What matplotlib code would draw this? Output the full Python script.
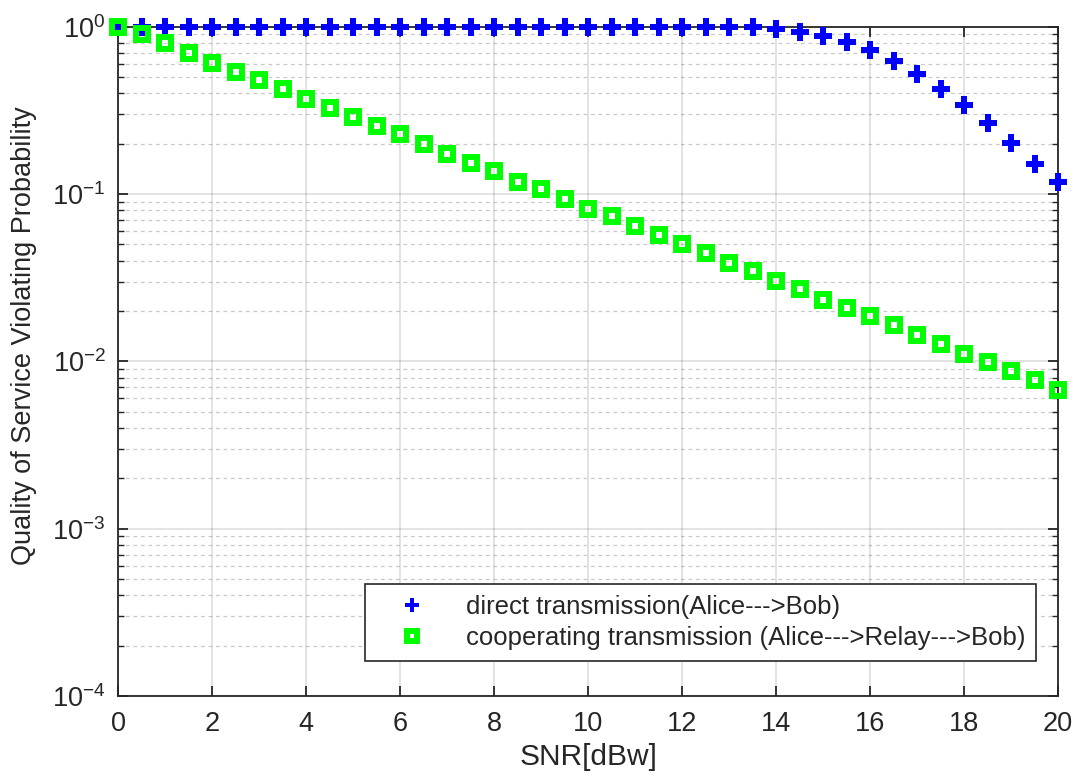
import numpy as np
import matplotlib
matplotlib.use("Agg")
import matplotlib.pyplot as plt
from matplotlib.ticker import LogLocator, FixedLocator, NullFormatter, FuncFormatter

snr = [0, 0.5, 1, 1.5, 2, 2.5, 3, 3.5, 4, 4.5, 5, 5.5, 6, 6.5, 7, 7.5, 8, 8.5, 9, 9.5,
       10, 10.5, 11, 11.5, 12, 12.5, 13, 13.5, 14, 14.5, 15, 15.5, 16, 16.5, 17, 17.5,
       18, 18.5, 19, 19.5, 20]

direct = [1.0, 1.0, 1.0, 1.0, 1.0, 1.0, 1.0, 1.0, 1.0, 1.0, 1.0, 1.0, 1.0, 1.0, 1.0, 1.0,
          1.0, 1.0, 1.0, 1.0, 1.0, 1.0, 1.0, 1.0, 1.0, 1.0, 0.998, 0.99, 0.965, 0.933,
          0.880, 0.807, 0.725, 0.623, 0.521, 0.424, 0.340, 0.264, 0.203, 0.152, 0.118]

coop = [1.0, 0.904, 0.796, 0.699, 0.609, 0.538, 0.480, 0.424, 0.372, 0.325, 0.287, 0.255,
        0.228, 0.198, 0.174, 0.153, 0.137, 0.118, 0.107, 0.0933, 0.0817, 0.0739, 0.0647,
        0.0570, 0.0501, 0.0443, 0.0389, 0.0346, 0.0304, 0.0269, 0.0234, 0.0209, 0.0186,
        0.0164, 0.0143, 0.0127, 0.0111, 0.0099, 0.0087, 0.0077, 0.00678]

x_ticks = [0, 2, 4, 6, 8, 10, 12, 14, 16, 18, 20]
labels = ["direct transmission(Alice--->Bob)",
          "cooperating transmission (Alice--->Relay--->Bob)"]

plt.rcParams['font.family'] = ['Liberation Sans', 'DejaVu Sans']
plt.rcParams['mathtext.fontset'] = 'custom'
plt.rcParams['mathtext.rm'] = 'Liberation Sans'
plt.rcParams['mathtext.default'] = 'regular'
plt.rcParams['axes.unicode_minus'] = False
txt = (0.15, 0.15, 0.15)

fig = plt.figure(figsize=(10.75, 7.76), dpi=100)
ax = fig.add_axes([0.110, 0.1031, 0.8742, 0.8625])

ax.plot(snr, direct, linestyle='none', marker='P', color=(0, 0, 1), markersize=13,
        markeredgewidth=0, label=labels[0], clip_on=False, zorder=3)
ax.plot(snr, coop, linestyle='none', marker='s', markerfacecolor='none',
        markeredgecolor=(0, 1, 0), markersize=9, markeredgewidth=4.3, label=labels[1],
        clip_on=False, zorder=4)

ax.set_yscale('log')
ax.set_xlim(0, 20)
ax.set_ylim(1e-4, 1)
ax.xaxis.set_major_locator(FixedLocator(x_ticks))
ax.yaxis.set_major_locator(LogLocator(base=10, numticks=10))
ax.yaxis.set_major_formatter(FuncFormatter(lambda v, p: r'$10^{%d}$' % int(round(np.log10(v)))))
ax.yaxis.set_minor_locator(LogLocator(base=10, subs=np.arange(2, 10), numticks=20))
ax.yaxis.set_minor_formatter(NullFormatter())

ax.grid(True, which='major', color=(0.15, 0.15, 0.15), alpha=0.15, linewidth=1.2)
ax.grid(True, which='minor', axis='y', color=(0.15, 0.15, 0.15), alpha=0.25,
        linestyle=(0, (3, 3)), linewidth=0.9)
ax.set_axisbelow(True)

ax.tick_params(which='both', direction='in', top=True, right=True, colors=txt,
               labelsize=19.5)
ax.tick_params(which='major', length=7, width=1.3)
ax.tick_params(which='minor', length=4, width=1.0)
ax.tick_params(axis='x', pad=11)
ax.tick_params(axis='y', pad=9)
for s in ax.spines.values():
    s.set_color(txt)
    s.set_linewidth(1.3)

ax.set_xlabel('SNR[dBw]', fontsize=21.5, color=txt, labelpad=4)
ax.set_ylabel('Quality of Service Violating Probability', fontsize=19.5, color=txt)
ax.yaxis.set_label_coords(-0.0865, 0.539)

leg = ax.legend(loc='lower right', bbox_to_anchor=(0.9766, 0.052), fontsize=18.5,
                frameon=True, fancybox=False, edgecolor=txt, framealpha=1,
                borderaxespad=0.0, borderpad=0.42, labelspacing=0.28,
                handletextpad=0.68, handlelength=2.83, markerscale=0.75)
leg.get_frame().set_linewidth(1.2)
for t in leg.get_texts():
    t.set_color(txt)

fig.savefig('out.png', dpi=100)
